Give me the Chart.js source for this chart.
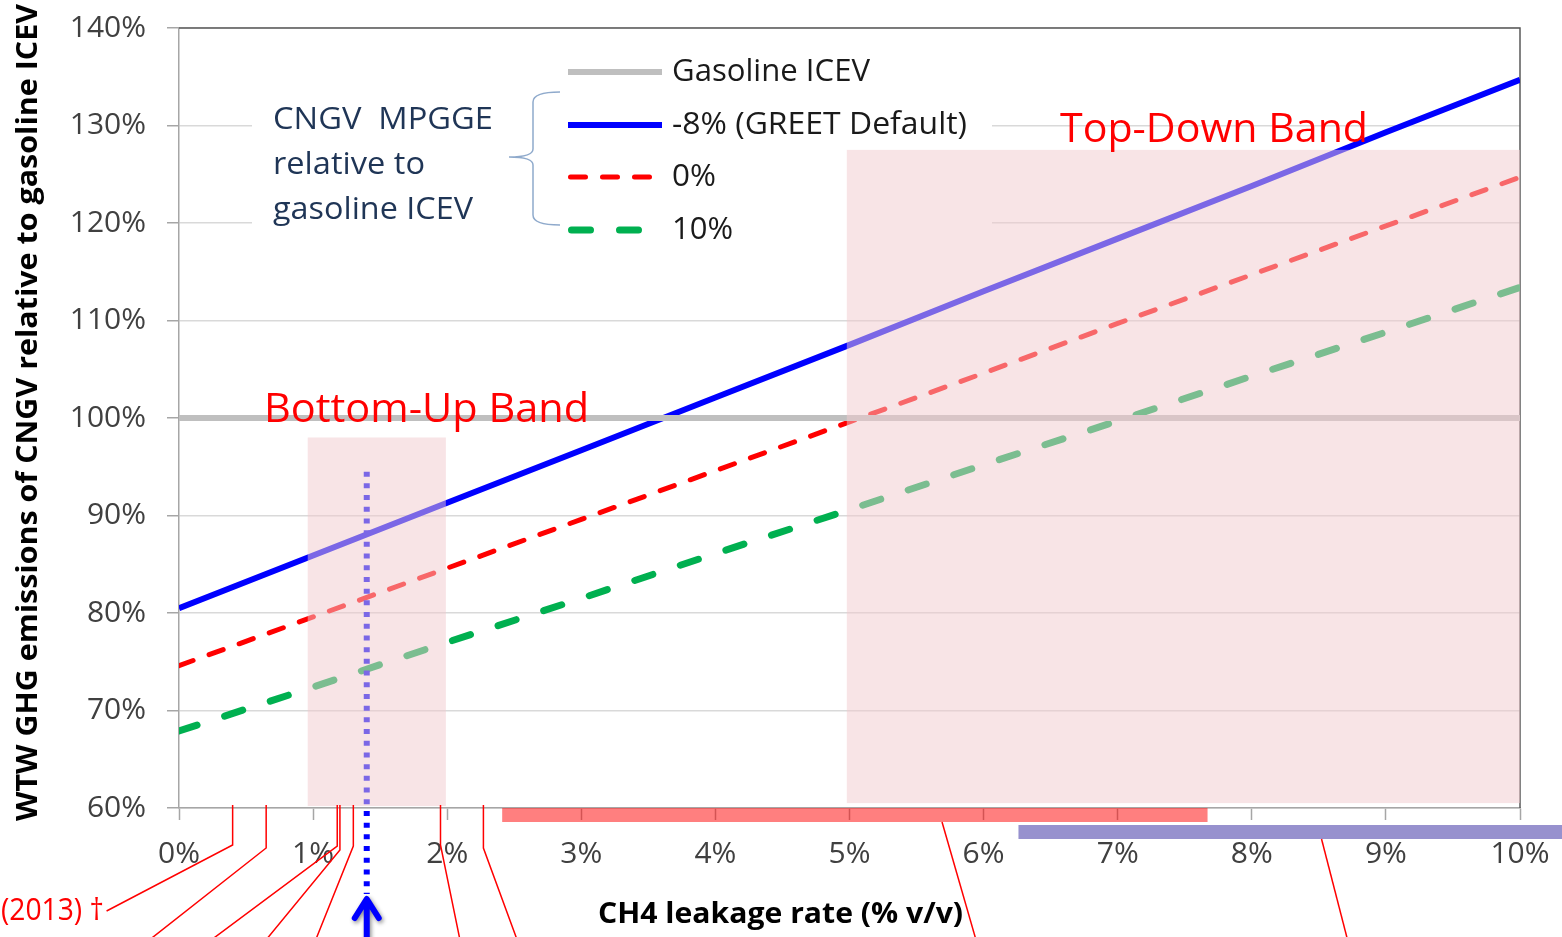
<!DOCTYPE html>
<html><head><meta charset="utf-8">
<script src="https://cdn.jsdelivr.net/npm/chart.js@4.4.1/dist/chart.umd.min.js"></script>
<style>html,body{margin:0;padding:0;background:#fff;overflow:hidden}</style>
</head><body>
<canvas id="c" width="1562" height="937"></canvas>
<script>
const FONT = '"Open Sans", "Noto Sans", "DejaVu Sans", sans-serif';

// ---- data ----
const leakageRate   = [0, 1, 2, 3, 4, 5, 6, 7, 8, 9, 10];            // CH4 leakage, % v/v
const gasolineICEV  = [100, 100, 100, 100, 100, 100, 100, 100, 100, 100, 100];
const mpggeMinus8   = [80.5, 85.9, 91.3, 96.7, 102.1, 107.5, 113.0, 118.4, 123.8, 129.3, 134.7];
const mpgge0        = [74.6, 79.6, 84.6, 89.6, 94.6, 99.6, 104.6, 109.7, 114.7, 119.7, 124.7];
const mpgge10       = [67.9, 72.4, 77.0, 81.5, 86.1, 90.6, 95.2, 99.7, 104.3, 108.8, 113.4];
const seriesLabels  = ['Gasoline ICEV', '-8% (GREET Default)', '0%', '10%'];
const legendTitle   = ['CNGV  MPGGE', 'relative to', 'gasoline ICEV'];
const xAxisTitle    = 'CH4 leakage rate (% v/v)';
const yAxisTitle    = 'WTW GHG emissions of CNGV relative to gasoline ICEV';

// annotation data, in axis units (% leakage, % emissions)
const bandNames     = ['Bottom-Up Band', 'Top-Down Band'];
const bandLeak      = [[0.96, 1.99], [4.98, 10.0]];
const bandEmis      = [[60.2, 98.0], [60.5, 127.5]];
const bandLabelAt   = [[0.634, 100.8], [6.57, 129.5]];
const greetLeak     = 1.40;     // dotted marker
const greetTop      = 94.5;
const studyLeaks    = [0.40, 0.65, 1.18, 1.20, 1.30, 1.95, 2.27];
const studyEnds     = [-0.54, -0.25, 0.21, 0.63, 1.01, 2.10, 2.53];
const rangeLeak     = [[2.41, 7.67], [6.26, 10.45]];
const rangeLeader   = [[5.69, 5.95], [8.52, 8.72]];
const refNote       = '(2013) \u2020';
const refNoteLeak   = -0.56;

const pts = ys => leakageRate.map((x, i) => ({ x, y: ys[i] }));

function fitText(ctx, text, x, y, w, px, weight, color, align) {
  ctx.save();
  ctx.font = `${weight} ${px}px ${FONT}`;
  const m = ctx.measureText(text).width;
  const s = w / m;
  ctx.translate(x, y);
  ctx.scale(s, 1);
  ctx.fillStyle = color;
  ctx.textBaseline = 'middle';
  ctx.textAlign = align || 'left';
  ctx.fillText(text, 0, 0);
  ctx.restore();
}

const deco = {
  id: 'deco',
  beforeDatasetsDraw(chart) {
    const { ctx, chartArea: a } = chart;
    ctx.save();
    // legend background (hides grid lines)
    ctx.fillStyle = '#ffffff';
    ctx.fillRect(a.left + 73, a.top + 12, 740, 205);
    // top & right plot border
    ctx.strokeStyle = '#595959';
    ctx.lineWidth = 1.5;
    ctx.beginPath();
    ctx.moveTo(a.left, a.top); ctx.lineTo(a.right, a.top); ctx.lineTo(a.right, a.bottom);
    ctx.stroke();
    ctx.restore();
  },
  afterDatasetsDraw(chart) {
    const { ctx, chartArea: a, scales: { x, y } } = chart;
    ctx.save();
    // dotted GREET marker
    ctx.strokeStyle = '#0000FF';
    ctx.lineWidth = 6;
    ctx.setLineDash([5, 6.7]);
    ctx.beginPath();
    ctx.moveTo(x.getPixelForValue(greetLeak), y.getPixelForValue(greetTop));
    ctx.lineTo(x.getPixelForValue(greetLeak), a.bottom + 86);
    ctx.stroke();
    ctx.setLineDash([]);
    // bands
    ctx.fillStyle = 'rgba(241,202,206,0.51)';
    bandLeak.forEach((bx, i) => {
      const x0 = x.getPixelForValue(bx[0]), x1 = x.getPixelForValue(bx[1]);
      const y0 = y.getPixelForValue(bandEmis[i][1]), y1 = y.getPixelForValue(bandEmis[i][0]);
      ctx.fillRect(x0, y0, x1 - x0, y1 - y0);
    });
    // band labels
    const bandW = [325, 308];
    bandNames.forEach((t, i) => {
      fitText(ctx, t, x.getPixelForValue(bandLabelAt[i][0]), y.getPixelForValue(bandLabelAt[i][1]),
              bandW[i], 40, 'normal', '#FF0000');
    });
    // legend
    const ds = chart.data.datasets;
    const rows = [44, 97, 149, 202];
    const txtW = [198, 295, 44, 61];
    ds.forEach((d, i) => {
      const yy = a.top + rows[i];
      ctx.save();
      ctx.strokeStyle = d.borderColor;
      ctx.lineWidth = d.borderWidth;
      ctx.lineCap = d.borderCapStyle || 'butt';
      ctx.setLineDash(d.borderDash || []);
      ctx.beginPath();
      const xs = a.left + 389 + (d.borderCapStyle === 'round' ? d.borderWidth / 2 : 0);
      ctx.moveTo(xs, yy); ctx.lineTo(a.left + 483, yy);
      ctx.stroke();
      ctx.restore();
      fitText(ctx, d.label, a.left + 493, yy, txtW[i], 31, 'normal', '#1a1a1a');
    });
    const titleRows = [92, 137, 182];
    const titleW = [220, 152, 200];
    legendTitle.forEach((t, i) => {
      fitText(ctx, t, a.left + 94, a.top + titleRows[i], titleW[i], 31, 'normal', '#1F3556');
    });
    // brace
    const bx0 = a.left + 330, bx1 = a.left + 354, bx2 = a.left + 381;
    const t0 = a.top + 64, tm = a.top + 129, t1 = a.top + 197;
    ctx.strokeStyle = '#8FAACC';
    ctx.lineWidth = 1.5;
    ctx.beginPath();
    ctx.moveTo(bx2, t0);
    ctx.quadraticCurveTo(bx1, t0, bx1, t0 + 10);
    ctx.lineTo(bx1, tm - 8);
    ctx.quadraticCurveTo(bx1, tm, bx0, tm);
    ctx.quadraticCurveTo(bx1, tm, bx1, tm + 8);
    ctx.lineTo(bx1, t1 - 10);
    ctx.quadraticCurveTo(bx1, t1, bx2, t1);
    ctx.stroke();
    ctx.restore();
  },
  afterDraw(chart) {
    const { ctx, chartArea: a, scales: { x, y } } = chart;
    ctx.save();
    // range bars below the axis
    const barOff = [[0, 14], [17, 31]];
    const barCol = ['rgba(255,0,0,0.5)', '#9791CE'];
    rangeLeak.forEach((r, i) => {
      const x0 = x.getPixelForValue(r[0]), x1 = x.getPixelForValue(r[1]);
      ctx.fillStyle = barCol[i];
      ctx.fillRect(x0, a.bottom + barOff[i][0], x1 - x0, barOff[i][1] - barOff[i][0]);
    });
    // leader lines
    ctx.strokeStyle = '#FF0000';
    ctx.lineWidth = 1.5;
    const knees = [37, 40, 38, 42, 38, 37, 40];
    studyLeaks.forEach((v, i) => {
      const px = x.getPixelForValue(v);
      ctx.beginPath();
      ctx.moveTo(px, a.bottom - 3);
      ctx.lineTo(px, a.bottom + knees[i]);
      ctx.lineTo(x.getPixelForValue(studyEnds[i]), a.bottom + (i === 0 ? 103 : 135));
      ctx.stroke();
    });
    rangeLeader.forEach((r, i) => {
      ctx.beginPath();
      ctx.moveTo(x.getPixelForValue(r[0]), a.bottom + barOff[i][1]);
      ctx.lineTo(x.getPixelForValue(r[1]), a.bottom + 135);
      ctx.stroke();
    });
    fitText(ctx, refNote, x.getPixelForValue(refNoteLeak), a.bottom + 103, 103, 31, 'normal', '#FF0000', 'right');
    // arrow
    const ax = x.getPixelForValue(greetLeak), ay = a.bottom + 89;
    ctx.save();
    ctx.shadowColor = 'rgba(0,0,0,0.45)';
    ctx.shadowBlur = 4;
    ctx.shadowOffsetX = 1.5;
    ctx.shadowOffsetY = 2;
    ctx.strokeStyle = '#0000FF';
    ctx.lineWidth = 6;
    ctx.lineCap = 'round';
    ctx.lineJoin = 'round';
    ctx.beginPath();
    ctx.moveTo(ax - 12, ay + 21); ctx.lineTo(ax, ay + 2); ctx.lineTo(ax + 12, ay + 21);
    ctx.moveTo(ax, ay + 4); ctx.lineTo(ax, ay + 60);
    ctx.stroke();
    ctx.restore();
    // axis titles
    fitText(ctx, xAxisTitle, a.left + 419, a.bottom + 107, 365, 29, 'bold', '#000000');
    ctx.save();
    ctx.translate(29, (a.top + a.bottom) / 2 - 5);
    ctx.rotate(-Math.PI / 2);
    fitText(ctx, yAxisTitle, -408, 0, 817, 29, 'bold', '#000000');
    ctx.restore();
    ctx.restore();
  }
};

new Chart(document.getElementById('c'), {
  type: 'line',
  data: {
    datasets: [
      { label: seriesLabels[0], data: pts(gasolineICEV), borderColor: '#BFBFBF', borderWidth: 6, pointRadius: 0 },
      { label: seriesLabels[1], data: pts(mpggeMinus8), borderColor: '#0000FF', borderWidth: 6, pointRadius: 0 },
      { label: seriesLabels[2], data: pts(mpgge0), borderColor: '#FF0000', borderWidth: 5, borderDash: [15, 17], borderCapStyle: 'round', pointRadius: 0 },
      { label: seriesLabels[3], data: pts(mpgge10), borderColor: '#00B050', borderWidth: 7, borderDash: [19, 29], borderCapStyle: 'round', pointRadius: 0 }
    ]
  },
  options: {
    responsive: false,
    animation: false,
    devicePixelRatio: 1,
    layout: { padding: { top: 28, right: 42, left: 0, bottom: 0 } },
    plugins: { legend: { display: false }, tooltip: { enabled: false } },
    scales: {
      x: {
        type: 'linear', min: 0, max: 10,
        ticks: { stepSize: 1, callback: v => v + '%', font: { family: FONT, size: 30 }, color: '#404040', padding: 16, maxRotation: 0 },
        grid: { drawOnChartArea: false, drawTicks: true, tickLength: 12, tickColor: '#A6A6A6', tickWidth: 1.5 },
        border: { color: '#A6A6A6', width: 1.5 },
        afterFit: s => { s.height = 129; s.paddingLeft = 0; s.paddingRight = 0; }
      },
      y: {
        min: 60, max: 140,
        ticks: { stepSize: 10, callback: v => v + '%', font: { family: FONT, size: 30 }, color: '#404040', padding: 21 },
        grid: { color: '#D9D9D9', lineWidth: 1.5, tickLength: 12, tickColor: '#A6A6A6', tickWidth: 1.5 },
        border: { color: '#A6A6A6', width: 1.5 },
        afterFit: s => { s.width = 179; s.paddingTop = 0; s.paddingBottom = 0; }
      }
    }
  },
  plugins: [deco]
});
</script>
</body></html>
